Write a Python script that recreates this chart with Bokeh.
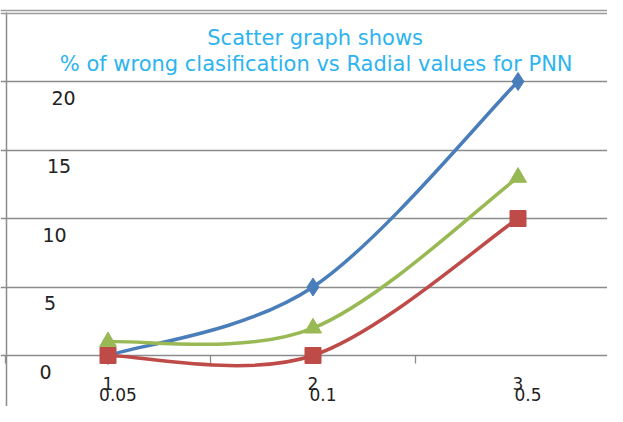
from bokeh.plotting import figure
from bokeh.models import Range1d, Grid, FixedTicker, Span, ColumnDataSource
from bokeh.core.properties import value
from bokeh.embed import file_html
from bokeh.resources import INLINE

# ---- data ----
x_values = [1, 2, 3]
index_labels = ["1", "2", "3"]
radial_labels = ["0.05", "0.1", "0.5"]
series_blue = [0, 5, 20]
series_green = [1, 2, 13]
series_red = [0, 0, 10]
y_ticks = [0, 5, 10, 15, 20]
y_tick_labels = ["0", "5", "10", "15", "20"]
title_lines = ["Scatter  graph shows",
               "% of wrong clasification vs  Radial values for PNN"]

# ---- layout (pixel scale) ----
W, H = 607, 406
XS = 205.0          # px per x unit
YS = 13.7           # px per y unit
X0 = 1 - 107.5 / XS
X1 = X0 + W / XS
Y1 = 355 / YS
Y0 = Y1 - H / YS


def dx(px):
    return X0 + px / XS


def dy(py):
    return Y1 - py / YS


p = figure(width=W, height=H, x_range=Range1d(X0, X1), y_range=Range1d(Y0, Y1),
           output_backend="svg", toolbar_location=None,
           x_axis_location=None, y_axis_location=None,
           min_border=0, outline_line_color=None,
           background_fill_color="white", border_fill_color="white")
for g in p.grid:
    g.visible = False

p.add_layout(Grid(dimension=1, ticker=FixedTicker(ticks=y_ticks),
                  grid_line_color="#8c8c8c", grid_line_width=1.3))

# top double border and left axis line
for py in (10, 13):
    p.add_layout(Span(location=dy(py), dimension="width",
                      line_color="#9a9a9a", line_width=1.5))
p.segment(x0=[dx(6)], y0=[dy(12)], x1=[dx(6)], y1=[Y0],
          line_color="#8c8c8c", line_width=1.5)

# x-axis tick marks at category boundaries
bounds = [v - 0.5 for v in x_values] + [x_values[-1] + 0.5]
p.segment(x0=bounds, y0=[0] * len(bounds), x1=bounds,
          y1=[-8 / YS] * len(bounds), line_color="#8c8c8c", line_width=1.3)


def bezier_source(xs, ys):
    n = len(xs)
    d = dict(x0=[], y0=[], x1=[], y1=[], cx0=[], cy0=[], cx1=[], cy1=[])
    for i in range(n - 1):
        pm = (xs[max(i - 1, 0)], ys[max(i - 1, 0)])
        pa = (xs[i], ys[i])
        pb = (xs[i + 1], ys[i + 1])
        pn = (xs[min(i + 2, n - 1)], ys[min(i + 2, n - 1)])
        d["x0"].append(pa[0]); d["y0"].append(pa[1])
        d["x1"].append(pb[0]); d["y1"].append(pb[1])
        d["cx0"].append(pa[0] + (pb[0] - pm[0]) / 6)
        d["cy0"].append(pa[1] + (pb[1] - pm[1]) / 6)
        d["cx1"].append(pb[0] - (pn[0] - pa[0]) / 6)
        d["cy1"].append(pb[1] - (pn[1] - pa[1]) / 6)
    return ColumnDataSource(d)


series = [
    (series_blue, "#4A7EBB", "diamond", 18),
    (series_green, "#98B954", "triangle", 17),
    (series_red, "#BE4B48", "square", 16),
]
for ys, col, mk, sz in series:
    p.bezier(x0="x0", y0="y0", x1="x1", y1="y1", cx0="cx0", cy0="cy0",
             cx1="cx1", cy1="cy1", source=bezier_source(x_values, ys),
             line_color=col, line_width=3.5)
for ys, col, mk, sz in series:
    p.scatter(x_values, ys, marker=mk, size=sz, fill_color=col,
              line_color=col)

# title
p.text(x=[dx(318), dx(319)], y=[dy(37), dy(63)], text=title_lines,
       text_font=value("DejaVu Sans"), text_font_size="21px",
       text_color="#2DB4EE", text_align="center", text_baseline="middle")

# y tick labels (inside plot, below each grid line)
p.text(x=[dx(45 + 0.9 * v) for v in y_ticks], y=[v - 16 / YS for v in y_ticks],
       text=y_tick_labels, text_font=value("DejaVu Sans"),
       text_font_size="19px", text_color="#222222",
       text_align="center", text_baseline="middle")

# x labels
p.text(x=x_values, y=[dy(383)] * 3, text=index_labels,
       text_font=value("DejaVu Sans"), text_font_size="17px",
       text_color="#222222", text_align="center", text_baseline="middle")
p.text(x=x_values, y=[dy(394)] * 3, text=radial_labels, x_offset=10,
       text_font=value("DejaVu Sans"), text_font_size="17px",
       text_color="#222222", text_align="center", text_baseline="middle")

open("out.html", "w").write(file_html(p, INLINE))
